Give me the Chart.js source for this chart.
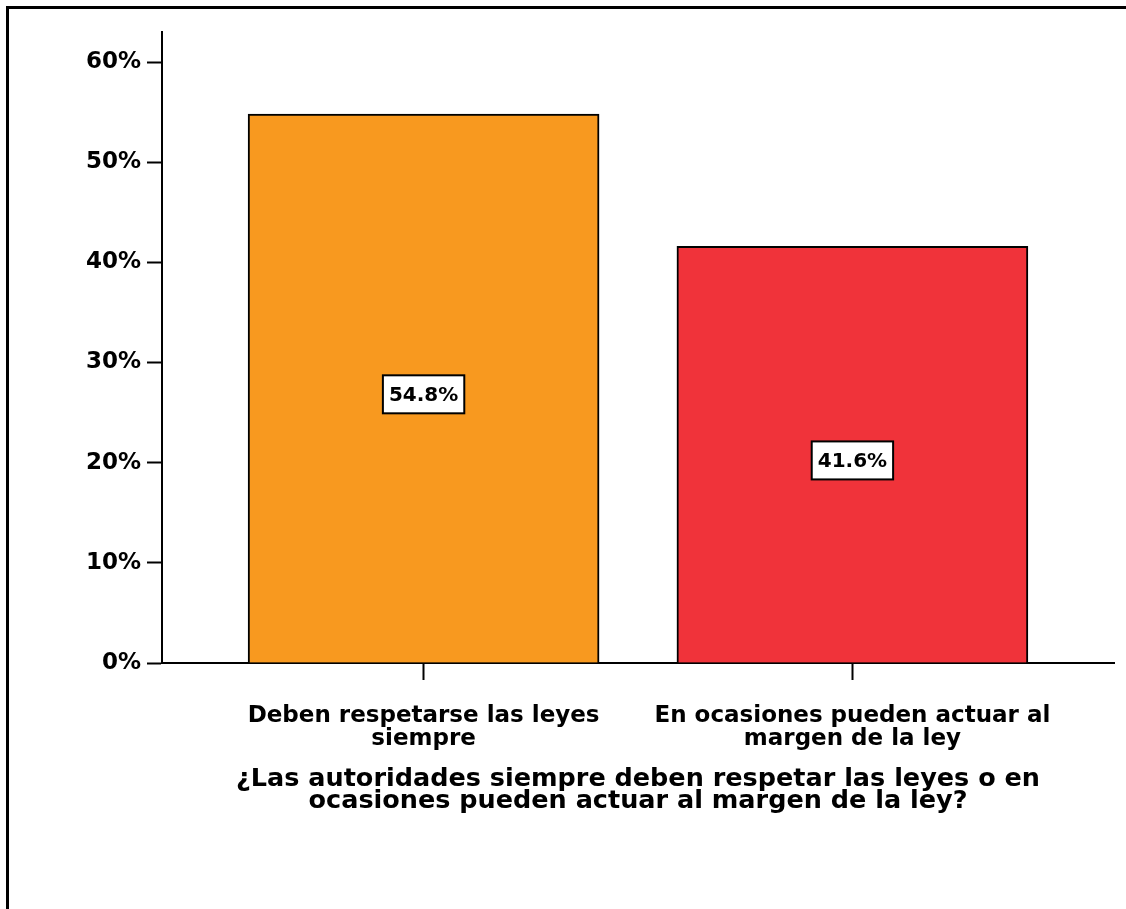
<!DOCTYPE html>
<html>
<head>
<meta charset="utf-8">
<script src="https://cdn.jsdelivr.net/npm/chart.js@4.4.1/dist/chart.umd.min.js"></script>
<style>
  html, body { margin: 0; padding: 0; background: #fff; }
  #wrap { position: relative; width: 1126px; height: 909px; }
  #frame { position: absolute; left: 6px; top: 6px; right: 0; bottom: 0;
           border-top: 3px solid #000; border-left: 3px solid #000; pointer-events: none; }
  canvas { position: absolute; left: 0; top: 0; }
</style>
</head>
<body>
<div id="wrap">
  <canvas id="chart" width="1126" height="909"></canvas>
  <div id="frame"></div>
</div>
<script>
// Daten
const categories = [
  ["Deben respetarse las leyes", "siempre"],
  ["En ocasiones pueden actuar al", "margen de la ley"]
];
const percentages = [54.8, 41.6];
const barColors = ["#F8991F", "#F0333A"];
const yTicks = [0, 10, 20, 30, 40, 50, 60];
const axisTitle = [
  "¿Las autoridades siempre deben respetar las leyes o en",
  "ocasiones pueden actuar al margen de la ley?"
];

const fontFamily = "'DejaVu Sans', sans-serif";

// Beschriftungsboxen in der Mitte der Balken
const boxLabels = {
  id: "boxLabels",
  afterDatasetsDraw(chart) {
    const ctx = chart.ctx;
    const meta = chart.getDatasetMeta(0);
    ctx.save();
    ctx.font = "bold 20px " + fontFamily;
    ctx.textAlign = "center";
    ctx.textBaseline = "middle";
    meta.data.forEach((bar, i) => {
      const text = percentages[i].toFixed(1) + "%";
      const cx = bar.x;
      const cy = (bar.y + bar.base) / 2 + 6;
      const w = ctx.measureText(text).width + 12;
      const h = 38;
      ctx.fillStyle = "#fff";
      ctx.fillRect(cx - w / 2, cy - h / 2, w, h);
      ctx.lineWidth = 2;
      ctx.strokeStyle = "#000";
      ctx.strokeRect(cx - w / 2, cy - h / 2, w, h);
      ctx.fillStyle = "#000";
      ctx.fillText(text, cx, cy + 1);
    });
    ctx.restore();
  }
};

new Chart(document.getElementById("chart").getContext("2d"), {
  type: "bar",
  data: {
    datasets: [{
      data: percentages.map((v, i) => ({ x: i, y: v })),
      backgroundColor: barColors,
      borderColor: "#000",
      borderWidth: 2,
      barThickness: 351
    }]
  },
  options: {
    responsive: false,
    animation: false,
    layout: { padding: { top: 32, right: 12, left: 0, bottom: 0 } },
    plugins: {
      legend: { display: false },
      tooltip: { enabled: false }
    },
    scales: {
      x: {
        type: "linear",
        offset: false,
        min: -0.61,
        max: 1.61,
        afterFit: (scale) => { scale.height = 246; },
        afterBuildTicks: (scale) => { scale.ticks = categories.map((c, i) => ({ value: i })); },
        grid: { offset: false, drawOnChartArea: false, tickLength: 17, tickColor: "#000", tickWidth: 2 },
        border: { color: "#000", width: 2 },
        ticks: {
          color: "#000",
          padding: 25,
          maxRotation: 0,
          autoSkip: false,
          font: { family: fontFamily, weight: "bold", size: 23, lineHeight: 1.0 },
          callback: (v) => categories[v]
        },
        title: {
          display: true,
          text: axisTitle,
          color: "#000",
          font: { family: fontFamily, weight: "bold", size: 25.5, lineHeight: 0.88 },
          padding: { top: 0, bottom: 96 }
        }
      },
      y: {
        min: 0,
        max: 63,
        afterFit: (scale) => { scale.width = 162; },
        afterBuildTicks: (scale) => { scale.ticks = yTicks.map(v => ({ value: v })); },
        grid: { drawOnChartArea: false, tickLength: 15, tickColor: "#000", tickWidth: 2 },
        border: { color: "#000", width: 2 },
        ticks: {
          color: "#000",
          padding: 6,
          font: { family: fontFamily, weight: "bold", size: 23 },
          callback: (v) => v + "%"
        }
      }
    }
  },
  plugins: [boxLabels]
});
</script>
</body>
</html>
